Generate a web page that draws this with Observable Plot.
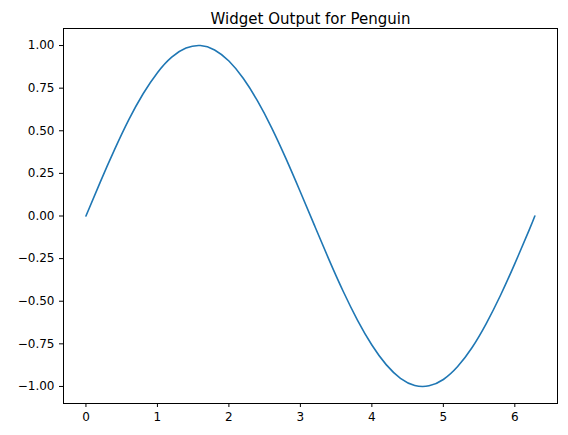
<!DOCTYPE html>
<html><head><meta charset="utf-8">
<script src="https://cdn.jsdelivr.net/npm/d3@7"></script>
<script src="https://cdn.jsdelivr.net/npm/@observablehq/plot@0.6"></script>
<style>body{margin:0;background:#fff;font-family:"DejaVu Sans",sans-serif}</style>
</head><body><div id="c"></div>
<script>
const xs = [0,0.2,0.4,0.6,0.8,1.0,1.2,1.4,1.6,1.8,2.0,2.2,2.4,2.6,2.8,3.0,3.2,3.4,3.6,3.8,4.0,4.2,4.4,4.6,4.8,5.0,5.2,5.4,5.6,5.8,6.0,6.2,6.28];
const ys = [0,0.199,0.389,0.565,0.717,0.841,0.932,0.985,1.000,0.974,0.909,0.808,0.675,0.516,0.335,0.141,-0.058,-0.256,-0.443,-0.612,-0.757,-0.872,-0.952,-0.994,-0.996,-0.959,-0.883,-0.773,-0.631,-0.465,-0.279,-0.083,0];
const xTicks = [0,1,2,3,4,5,6];
const yTicks = [-1,-0.75,-0.5,-0.25,0,0.25,0.5,0.75,1];
const title = "Widget Output for Penguin";
const data = xs.map((x,i)=>({x, y: ys[i]}));
const chart = Plot.plot({
  width: 568, height: 435,
  marginLeft: 63, marginRight: 11, marginTop: 28, marginBottom: 32,
  style: {fontFamily: "DejaVu Sans", fontSize: "12px", color: "#000", background: "#fff"},
  x: {domain: [-0.314, 6.597], ticks: xTicks, tickFormat: d3.format("d"), label: null, tickSize: 4},
  y: {domain: [-1.1, 1.1], ticks: yTicks, tickFormat: d3.format(".2f"), label: null, tickSize: 4},
  marks: [
    Plot.frame({stroke: "#000"}),
    Plot.line(data, {x: "x", y: "y", stroke: "#1f77b4", strokeWidth: 1.6, curve: "natural"}),
    Plot.text([title], {frameAnchor: "top", dy: -15, text: d => d, fontSize: 15, fill: "#000"})
  ]
});
document.getElementById("c").appendChild(chart);
</script></body></html>
